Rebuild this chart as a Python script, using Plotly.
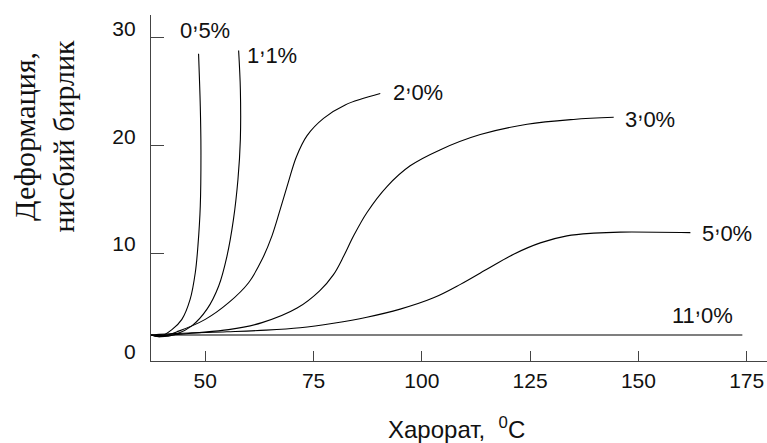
import plotly.graph_objects as go

# Deformation vs temperature for different contents (%)
temp_05 = [37.5, 39.5, 42.3, 44.6, 46.5, 47.7, 48.3, 48.85, 49.0, 48.85, 48.45]
def_05 = [2.4, 2.25, 2.9, 3.85, 5.7, 8.2, 10.65, 14.4, 19.6, 23.6, 28.5]

temp_11 = [37.5, 39.5, 43.1, 46.9, 50.4, 53.1, 55.0, 56.5, 57.55, 58.1, 58.1, 57.7]
def_11 = [2.4, 2.25, 2.45, 3.25, 4.8, 6.95, 9.7, 13.1, 16.85, 20.55, 25.2, 28.8]

temp_20 = [37.5, 40.0, 43.85, 50.0, 55.4, 60.0, 63.1, 65.4, 67.3, 69.2, 71.0, 73.5, 77.3, 82.3, 90.4]
def_20 = [2.4, 2.3, 2.76, 3.85, 5.4, 7.25, 9.4, 11.6, 14.05, 16.6, 18.9, 20.9, 22.5, 23.75, 24.8]

temp_30 = [37.5, 40.0, 47.7, 55.4, 63.1, 71.2, 76.4, 79.6, 82.0, 84.25, 87.3, 92.0, 97.3,
           104.3, 113.5, 124.3, 135.0, 144.3]
def_30 = [2.4, 2.35, 2.6, 2.9, 3.55, 4.9, 6.5, 8.0, 9.75, 11.6, 13.75, 16.2, 18.1,
          19.6, 21.0, 21.95, 22.4, 22.6]

temp_50 = [37.5, 43.8, 55.0, 64.0, 71.9, 79.6, 87.3, 95.0, 102.7, 108.9, 115.0, 121.2,
           127.35, 133.5, 139.7, 145.8, 162.0]
def_50 = [2.4, 2.55, 2.7, 2.85, 3.08, 3.5, 4.05, 4.8, 5.85, 7.1, 8.5, 9.9,
          10.95, 11.6, 11.85, 11.95, 11.9]

temp_110 = [37.5, 174.0]
def_110 = [2.4, 2.4]

COMMA = "<sup><span style='font-size:22px'>,</span></sup>"
series = [
    (temp_05, def_05, "0" + COMMA + "5%", 50.0, 31.1),
    (temp_11, def_11, "1" + COMMA + "1%", 65.45, 28.74),
    (temp_20, def_20, "2" + COMMA + "0%", 99.07, 25.28),
    (temp_30, def_30, "3" + COMMA + "0%", 152.75, 22.77),
    (temp_50, def_50, "5" + COMMA + "0%", 170.4, 12.2),
    (temp_110, def_110, "11" + COMMA + "0%", 164.87, 4.59),
]

x_ticks = [50, 75, 100, 125, 150, 175]
y_ticks = [0, 10, 20, 30]

fig = go.Figure()
annotations = []
for xs, ys, label, lx, ly in series:
    fig.add_trace(go.Scatter(
        x=xs, y=ys, mode="lines",
        line=dict(color="black", width=1.1, shape="spline", smoothing=1.0),
        showlegend=False, hoverinfo="skip",
    ))
    annotations.append(dict(
        x=lx, y=ly, xref="x", yref="y", text=label, showarrow=False,
        xanchor="center", yanchor="middle",
        font=dict(family="Liberation Sans, Arial, sans-serif", size=22, color="#111"),
    ))

annotations.append(dict(
    x=-0.173, y=0.65, xref="paper", yref="paper",
    text="Деформация,<br>нисбий бирлик", textangle=-90, showarrow=False,
    xanchor="center", yanchor="middle",
    font=dict(family="Liberation Serif, Times New Roman, serif", size=30, color="#111"),
))
annotations.append(dict(
    x=0.4954, y=-0.193, xref="paper", yref="paper",
    text="Харорат,  <sup>0</sup>C", showarrow=False,
    xanchor="center", yanchor="middle",
    font=dict(family="Liberation Sans, Arial, sans-serif", size=24, color="#111"),
))

fig.update_layout(
    width=767, height=443,
    margin=dict(l=151, r=0, t=15, b=82),
    paper_bgcolor="white", plot_bgcolor="white",
    annotations=annotations,
)
fig.update_xaxes(
    range=[37.47, 179.69], tickvals=x_ticks, ticks="inside", ticklen=10,
    tickcolor="#444", tickwidth=1.2, showline=True, linecolor="#444", linewidth=1.3,
    showgrid=False, zeroline=False, ticklabelstandoff=1,
    tickfont=dict(family="Liberation Sans, Arial, sans-serif", size=21, color="#111"),
)
fig.update_yaxes(
    range=[-0.01, 32.09], tickvals=y_ticks, ticks="inside", ticklen=13,
    tickcolor="#444", tickwidth=1.2, showline=True, linecolor="#444", linewidth=1.3,
    showgrid=False, zeroline=False, ticklabelstandoff=10, ticklabelshift=-9,
    tickfont=dict(family="Liberation Sans, Arial, sans-serif", size=21, color="#111"),
)

fig.write_html("out.html")
